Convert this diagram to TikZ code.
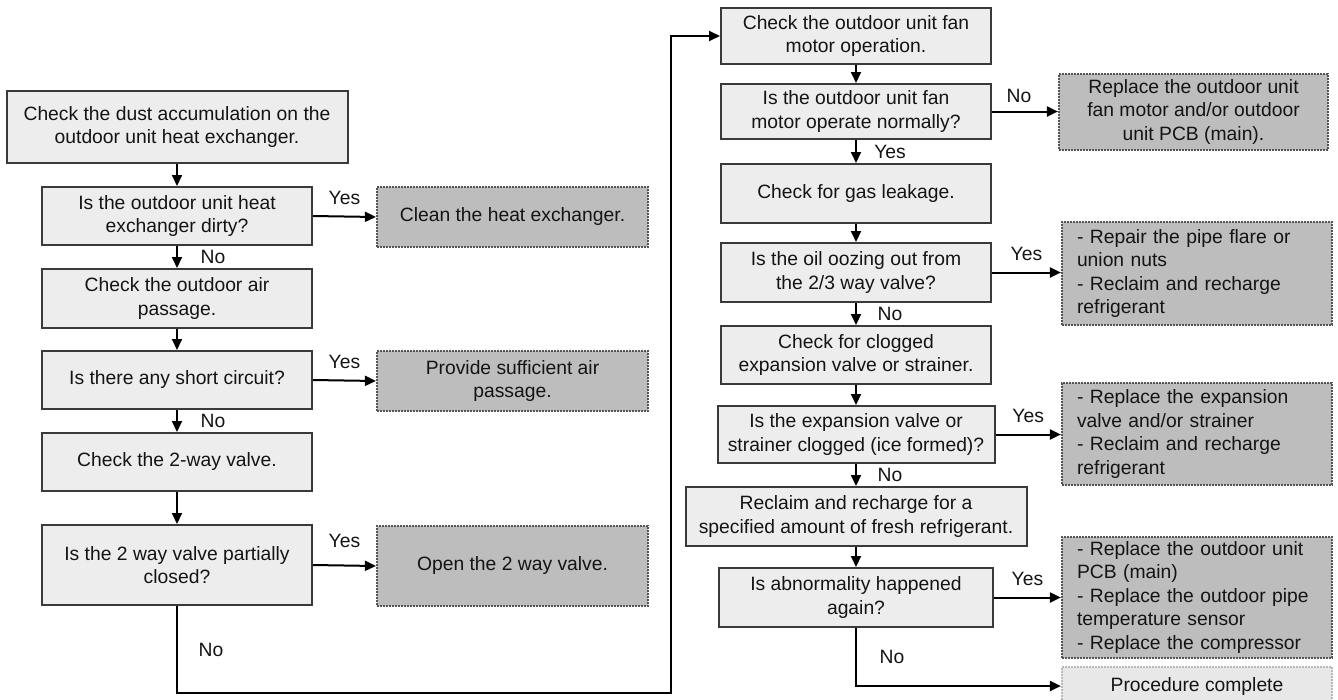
\documentclass[tikz,border=0pt]{standalone}
\usepackage{fontspec}
\setmainfont{Liberation Sans}
\usetikzlibrary{arrows.meta}
\definecolor{boxfill}{HTML}{EDEDED}
\definecolor{boxline}{HTML}{3A3A3A}
\definecolor{actfill}{HTML}{BDBDBD}
\definecolor{actline}{HTML}{555555}
\definecolor{endfill}{HTML}{E8E8E8}
\definecolor{endline}{HTML}{B8B8B8}
\definecolor{txt}{HTML}{141414}
\begin{document}
\begin{tikzpicture}[x=1pt,y=-1pt,
  font=\fontsize{19.3}{23.5}\selectfont, text=txt,
  box/.style={draw=boxline, line width=2pt, fill=boxfill, align=center, inner sep=0pt},
  act/.style={draw=actline, line width=2.2pt, dash pattern=on 1.6pt off 1.4pt, fill=actfill, align=center, inner sep=0pt},
  actlist/.style={act, align=left, text width=240pt},
  endbox/.style={draw=endline, line width=2.2pt, dash pattern=on 1.6pt off 1.4pt, fill=endfill, align=center, inner sep=0pt},
  arr/.style={-{Triangle[length=11pt,width=10pt]}, line width=2pt, draw=black},
  lbl/.style={inner sep=0pt, text=txt}]
\useasboundingbox (0,0) rectangle (1338,699);

% left column
\node[box, minimum width=341pt, minimum height=72pt] (A) at (177,127) {Check the dust accumulation on the\\outdoor unit heat exchanger.};
\node[box, minimum width=270pt, minimum height=58pt] (B) at (177,216) {Is the outdoor unit heat\\exchanger dirty?};
\node[box, minimum width=270pt, minimum height=59pt] (C) at (177,298.5) {Check the outdoor air\\passage.};
\node[box, minimum width=270pt, minimum height=58pt] (D) at (177,380) {Is there any short circuit?};
\node[box, minimum width=270pt, minimum height=58pt] (E) at (177,462) {Check the 2-way valve.};
\node[box, minimum width=270pt, minimum height=80pt] (F) at (177,565) {Is the 2 way valve partially\\closed?};

\node[act, minimum width=271pt, minimum height=60pt] (Clean) at (512.5,217) {Clean the heat exchanger.};
\node[act, minimum width=271pt, minimum height=60pt] (Prov) at (512.5,381) {Provide sufficient air\\passage.};
\node[act, minimum width=271pt, minimum height=80pt] (Open) at (512.5,566) {Open the 2 way valve.};

% right column
\node[box, minimum width=270pt, minimum height=56pt] (G) at (856,36) {Check the outdoor unit fan\\motor operation.};
\node[box, minimum width=270pt, minimum height=55pt] (H) at (856,111.5) {Is the outdoor unit fan\\motor operate normally?};
\node[box, minimum width=270pt, minimum height=59pt] (I) at (856,193.5) {Check for gas leakage.};
\node[box, minimum width=270pt, minimum height=59pt] (J) at (856,272.5) {Is the oil oozing out from\\the 2/3 way valve?};
\node[box, minimum width=270pt, minimum height=58pt] (K) at (856,355) {Check for clogged\\expansion valve or strainer.};
\node[box, minimum width=277pt, minimum height=57pt] (L) at (856,434.5) {Is the expansion valve or\\strainer clogged (ice formed)?};
\node[box, minimum width=341pt, minimum height=59pt] (M) at (856,516.5) {Reclaim and recharge for a\\specified amount of fresh refrigerant.};
\node[box, minimum width=274pt, minimum height=59pt] (N) at (856,597.5) {Is abnormality happened\\again?};

\node[act, minimum width=269pt, minimum height=76pt] (R1) at (1193.5,112) {Replace the outdoor unit\\fan motor and/or outdoor\\unit PCB (main).};
\node[actlist, minimum width=270pt, minimum height=103pt] (R2) at (1197,273.5) {- Repair the pipe flare or\\union nuts\\- Reclaim and recharge\\refrigerant};
\node[actlist, minimum width=270pt, minimum height=102pt] (R3) at (1197,434) {- Replace the expansion\\valve and/or strainer\\- Reclaim and recharge\\refrigerant};
\node[actlist, minimum width=270pt, minimum height=121pt] (R4) at (1197,597.5) {- Replace the outdoor unit\\PCB (main)\\- Replace the outdoor pipe\\temperature sensor\\- Replace the compressor};
\node[endbox, minimum width=270pt, minimum height=38pt] (P) at (1197,686) {Procedure complete};

\coordinate (c1) at (177,693);
\coordinate (c2) at (671,693);

% left connectors
\draw[arr] (A.south) -- (B.north);
\draw[arr] (B.south) -- node[lbl, midway, xshift=36pt] {No} (C.north);
\draw[arr] (C.south) -- (D.north);
\draw[arr] (D.south) -- node[lbl, midway, xshift=36pt] {No} (E.north);
\draw[arr] (E.south) -- (F.north);
\draw[arr] (B.east) -- node[lbl, midway, yshift=19pt] {Yes} (Clean.west);
\draw[arr] (D.east) -- node[lbl, midway, yshift=19pt] {Yes} (Prov.west);
\draw[arr] (F.east) -- node[lbl, midway, yshift=25pt] {Yes} (Open.west);
\draw[arr] (F.south) -- node[lbl, midway, xshift=34pt] {No} (c1) -- (c2) |- (G.west);

% right connectors
\draw[arr] (G.south) -- (H.north);
\draw[arr] (H.south) -- node[lbl, midway, xshift=34pt] {Yes} (I.north);
\draw[arr] (I.south) -- (J.north);
\draw[arr] (J.south) -- node[lbl, midway, xshift=34pt] {No} (K.north);
\draw[arr] (K.south) -- (L.north);
\draw[arr] (L.south) -- node[lbl, midway, xshift=34pt] {No} (M.north);
\draw[arr] (M.south) -- (N.north);
\draw[arr] (H.east) -- node[lbl, midway, yshift=16pt, xshift=-6pt] {No} (H.east -| R1.west);
\draw[arr] (J.east) -- node[lbl, midway, yshift=19pt] {Yes} (J.east -| R2.west);
\draw[arr] (L.east) -- node[lbl, midway, yshift=19pt] {Yes} (L.east -| R3.west);
\draw[arr] (N.east) -- node[lbl, midway, yshift=19pt] {Yes} (N.east -| R4.west);
\draw[arr] (N.south) -- node[lbl, midway, xshift=36pt] {No} (N.south |- P.west) -- (P.west);
\end{tikzpicture}
\end{document}
